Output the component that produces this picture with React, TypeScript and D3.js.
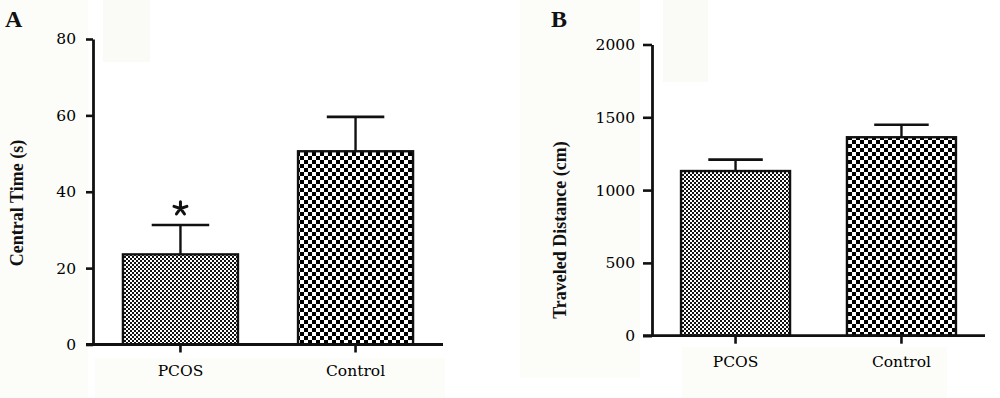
import React, { useEffect, useRef } from 'react';
import * as d3 from 'd3';

// data
const groups = ['PCOS', 'Control'];
const centralTimeMean = [23.6, 50.6];
const centralTimeSem = [7.7, 9.0];
const centralTimeTicks = [0, 20, 40, 60, 80];
const distanceMean = [1131, 1363];
const distanceSem = [78, 86];
const distanceTicks = [0, 500, 1000, 1500, 2000];
const significant = [true, false];
const patterns = ['fine-check', 'coarse-check'];

type PanelCfg = {
  letter: string;
  letterX: number;
  label: string;
  labelX: number;
  labelY: number;
  means: number[];
  sems: number[];
  ticks: number[];
  x0: number;
  x1: number;
  yTop: number;
  yBottom: number;
  tickLen: number;
  tickPad: number;
  padInner: number;
  padOuter: number;
  catBaseline: number;
};

const panels: PanelCfg[] = [
  {
    letter: 'A', letterX: 5, label: 'Central Time (s)', labelX: 17, labelY: 203,
    means: centralTimeMean, sems: centralTimeSem, ticks: centralTimeTicks,
    x0: 93, x1: 443, yTop: 39, yBottom: 344.5, tickLen: 7, tickPad: 10,
    padInner: 0.343, padOuter: 0.171, catBaseline: 376,
  },
  {
    letter: 'B', letterX: 551, label: 'Traveled Distance (cm)', labelX: 560, labelY: 230,
    means: distanceMean, sems: distanceSem, ticks: distanceTicks,
    x0: 652, x1: 985, yTop: 44.5, yBottom: 335.7, tickLen: 9, tickPad: 8,
    padInner: 0.343, padOuter: 0.175, catBaseline: 367,
  },
];

const tickFont = '"DejaVu Serif", serif';
const boldFont = '"Liberation Serif", "Times New Roman", serif';

const App: React.FC = () => {
  const svgRef = useRef<SVGSVGElement | null>(null);

  useEffect(() => {
    if (!svgRef.current) return;
    const svg = d3.select(svgRef.current);
    svg.selectAll('*').remove();

    // faint scan background patches
    const bg = svg.append('g');
    const patches = [
      [0, 0, 88, 398, '#fcfcf9'],
      [103, 0, 47, 62, '#fafaf7'],
      [95, 358, 350, 40, '#fcfcf9'],
      [520, 0, 120, 378, '#fcfcf9'],
      [663, 0, 45, 82, '#fafaf7'],
      [682, 347, 265, 51, '#fcfcf9'],
    ] as const;
    bg.selectAll('rect')
      .data(patches)
      .enter()
      .append('rect')
      .attr('x', (d) => d[0])
      .attr('y', (d) => d[1])
      .attr('width', (d) => d[2])
      .attr('height', (d) => d[3])
      .attr('fill', (d) => d[4]);

    const defs = svg.append('defs');
    const fine = defs
      .append('pattern')
      .attr('id', 'fine-check')
      .attr('patternUnits', 'userSpaceOnUse')
      .attr('width', 4)
      .attr('height', 4);
    fine.append('rect').attr('width', 4).attr('height', 4).attr('fill', '#fff');
    fine.append('rect').attr('width', 2).attr('height', 2).attr('fill', '#111');
    fine.append('rect').attr('x', 2).attr('y', 2).attr('width', 2).attr('height', 2).attr('fill', '#111');

    const coarse = defs
      .append('pattern')
      .attr('id', 'coarse-check')
      .attr('patternUnits', 'userSpaceOnUse')
      .attr('width', 8)
      .attr('height', 8);
    coarse.append('rect').attr('width', 8).attr('height', 8).attr('fill', '#fff');
    coarse.append('rect').attr('width', 4).attr('height', 4).attr('fill', '#000');
    coarse.append('rect').attr('x', 4).attr('y', 4).attr('width', 4).attr('height', 4).attr('fill', '#000');

    panels.forEach((p) => {
      const g = svg.append('g');
      const maxTick = p.ticks[p.ticks.length - 1];
      const y = d3.scaleLinear().domain([0, maxTick]).range([p.yBottom, p.yTop]);
      const x = d3
        .scaleBand()
        .domain(groups)
        .range([p.x0, p.x1])
        .paddingInner(p.padInner)
        .paddingOuter(p.padOuter);

      // bars
      g.selectAll('.bar')
        .data(groups)
        .enter()
        .append('rect')
        .attr('x', (d) => x(d) as number)
        .attr('y', (_, i) => y(p.means[i]))
        .attr('width', x.bandwidth())
        .attr('height', (_, i) => p.yBottom - y(p.means[i]))
        .attr('fill', (_, i) => `url(#${patterns[i]})`)
        .attr('stroke', '#111')
        .attr('stroke-width', 2.4);

      // error bars (upper only)
      const err = g.selectAll('.err').data(groups).enter().append('g');
      err
        .append('line')
        .attr('x1', (d) => (x(d) as number) + x.bandwidth() / 2)
        .attr('x2', (d) => (x(d) as number) + x.bandwidth() / 2)
        .attr('y1', (_, i) => y(p.means[i]))
        .attr('y2', (_, i) => y(p.means[i] + p.sems[i]))
        .attr('stroke', '#111')
        .attr('stroke-width', 2.4);
      err
        .append('line')
        .attr('x1', (d) => (x(d) as number) + x.bandwidth() / 4)
        .attr('x2', (d) => (x(d) as number) + (x.bandwidth() * 3) / 4)
        .attr('y1', (_, i) => y(p.means[i] + p.sems[i]))
        .attr('y2', (_, i) => y(p.means[i] + p.sems[i]))
        .attr('stroke', '#111')
        .attr('stroke-width', 2.6);

      // significance star on the Central Time panel
      if (p.letter === 'A') {
        groups.forEach((grp, i) => {
          if (!significant[i]) return;
          const cx = (x(grp) as number) + x.bandwidth() / 2;
          const cy = y(p.means[i] + p.sems[i]) - 16.5;
          const path = d3.path();
          for (let k = 0; k < 5; k++) {
            const a = (k * 2 * Math.PI) / 5;
            path.moveTo(cx, cy);
            path.lineTo(cx + 6.8 * Math.sin(a), cy - 6.8 * Math.cos(a));
          }
          g.append('path')
            .attr('d', path.toString())
            .attr('stroke', '#111')
            .attr('stroke-width', 3)
            .attr('stroke-linecap', 'round')
            .attr('fill', 'none');
        });
      }

      // y axis
      const yAxis = g
        .append('g')
        .attr('transform', `translate(${p.x0},0)`)
        .call(
          d3
            .axisLeft(y)
            .tickValues(p.ticks)
            .tickSize(p.tickLen)
            .tickSizeOuter(0)
            .tickPadding(p.tickPad)
            .tickFormat(d3.format('d'))
        );
      yAxis.select('.domain').attr('stroke', '#111').attr('stroke-width', 2.8);
      yAxis.selectAll('.tick line').attr('stroke', '#111').attr('stroke-width', 2.6);
      yAxis
        .selectAll('.tick text')
        .attr('font-family', tickFont)
        .attr('font-size', 15.5)
        .attr('fill', '#000');

      // x axis
      const xAxis = g
        .append('g')
        .attr('transform', `translate(0,${p.yBottom})`)
        .call(d3.axisBottom(x).tickSize(8).tickSizeOuter(0));
      xAxis.select('.domain').remove();
      xAxis.selectAll('.tick line').attr('stroke', '#111').attr('stroke-width', 2.6);
      xAxis
        .selectAll('.tick text')
        .attr('y', p.catBaseline - p.yBottom)
        .attr('dy', 0)
        .attr('font-family', tickFont)
        .attr('font-size', 15.5)
        .attr('fill', '#000');
      g.append('line')
        .attr('x1', p.x0 - p.tickLen)
        .attr('x2', x.range()[1])
        .attr('y1', p.yBottom)
        .attr('y2', p.yBottom)
        .attr('stroke', '#111')
        .attr('stroke-width', 2.8);

      // axis title
      g.append('text')
        .attr('transform', `translate(${p.labelX},${p.labelY}) rotate(-90)`)
        .attr('text-anchor', 'middle')
        .attr('dy', '0.35em')
        .attr('font-family', boldFont)
        .attr('font-weight', 'bold')
        .attr('font-size', 18)
        .attr('fill', '#111')
        .text(p.label);

      // panel letter
      g.append('text')
        .attr('x', p.letterX)
        .attr('y', 27)
        .attr('font-family', boldFont)
        .attr('font-weight', 'bold')
        .attr('font-size', 24)
        .attr('fill', '#111')
        .text(p.letter);
    });
  }, []);

  return (
    <svg
      ref={svgRef}
      width={1000}
      height={398}
      style={{ position: 'absolute', left: 0, top: 0, background: '#fff' }}
    ></svg>
  );
};

export default App;
